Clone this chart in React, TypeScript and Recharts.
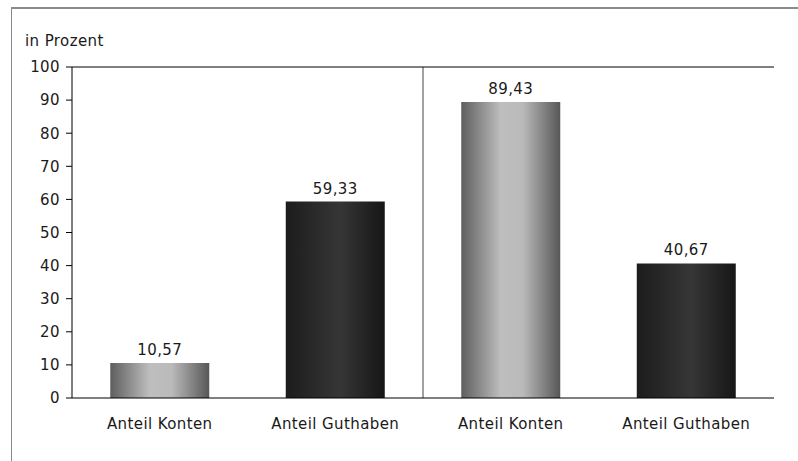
import React from "react";
import { BarChart, Bar, XAxis, YAxis, CartesianGrid, Cell, LabelList, ReferenceLine } from "recharts";

const categories = ["Anteil Konten", "Anteil Guthaben", "Anteil Konten", "Anteil Guthaben"];
const values = [10.57, 59.33, 89.43, 40.67];
const yTicks = [0, 10, 20, 30, 40, 50, 60, 70, 80, 90, 100];
const fills = ["url(#lightGrad)", "url(#darkGrad)", "url(#lightGrad)", "url(#darkGrad)"];

const data = categories.map((c, i) => ({ name: c, value: values[i], idx: i }));

const FONT = "DejaVu Sans, sans-serif";
const TXT = { fill: "#1a1a1a", fontSize: 15, fontFamily: FONT, letterSpacing: 0.4 };

export default function App() {
  return (
    <div style={{ position: "absolute", left: 0, top: 0, width: 798, height: 461, overflow: "hidden", background: "#fff", fontFamily: FONT }}>
      <div style={{ position: "absolute", left: 11, top: 7, width: 900, height: 600, borderLeft: "1px solid #8a8a8a", borderTop: "2px solid #8a8a8a" }} />
      <div style={{ position: "absolute", left: 25, top: 32, fontSize: 15, color: "#1a1a1a", letterSpacing: 0.4 }}>in Prozent</div>
      <div style={{ position: "absolute", left: 0, top: 0 }}>
        <BarChart width={798} height={461} data={data} margin={{ top: 67, right: 24, bottom: 33, left: 0 }} barCategoryGap="21.8%">
          <defs>
            <linearGradient id="lightGrad" x1="0" y1="0" x2="1" y2="0">
              <stop offset="0%" stopColor="#5e5e5e" />
              <stop offset="40%" stopColor="#bebebe" />
              <stop offset="62%" stopColor="#bababa" />
              <stop offset="100%" stopColor="#575757" />
            </linearGradient>
            <linearGradient id="darkGrad" x1="0" y1="0" x2="1" y2="0">
              <stop offset="0%" stopColor="#1c1c1c" />
              <stop offset="55%" stopColor="#363636" />
              <stop offset="100%" stopColor="#161616" />
            </linearGradient>
          </defs>
          <CartesianGrid
            horizontal={false}
            stroke="#444"
            strokeWidth={1}
            verticalCoordinatesGenerator={({ offset }: any) => [offset.left + offset.width / 2]}
          />
          <XAxis
            dataKey="name"
            axisLine={{ stroke: "#000", strokeWidth: 1 }}
            tickLine={false}
            tickSize={6}
            tickMargin={14}
            height={30}
            interval={0}
            tick={TXT}
          />
          <YAxis
            domain={[0, 100]}
            ticks={yTicks}
            width={72}
            axisLine={{ stroke: "#000", strokeWidth: 1 }}
            tickLine={{ stroke: "#000" }}
            tickSize={6}
            tickMargin={6}
            interval={0}
            tick={TXT}
          />
          <YAxis
            yAxisId="right"
            orientation="right"
            domain={[0, 100]}
            width={0}
            tick={false}
            tickLine={false}
            axisLine={{ stroke: "#111", strokeWidth: 2 }}
          />
          <ReferenceLine y={100} stroke="#000" strokeWidth={1} />
          <Bar dataKey="value" isAnimationActive={false}>
            {data.map((d, i) => (
              <Cell key={i} fill={fills[i]} />
            ))}
            <LabelList
              dataKey="value"
              position="top"
              offset={8}
              formatter={(v: any) => Number(v).toFixed(2).replace(".", ",")}
              style={TXT}
            />
          </Bar>
        </BarChart>
      </div>
    </div>
  );
}
